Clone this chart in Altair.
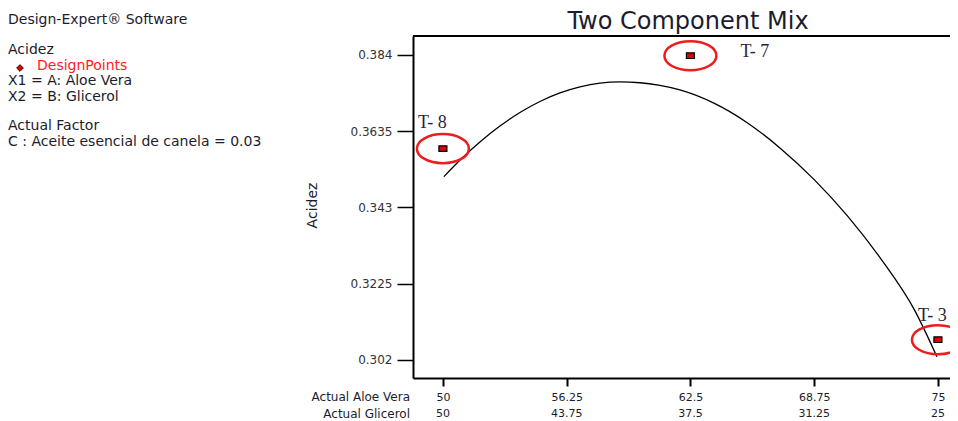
import altair as alt
import pandas as pd

# ---- data ----
aloe_ticks = [50, 56.25, 62.5, 68.75, 75]
glicerol_labels = ["50", "43.75", "37.5", "31.25", "25"]
acidez_ticks = [0.302, 0.3225, 0.343, 0.3635, 0.384]

curve_aloe = [50.05, 51.01, 51.87, 52.88, 53.89, 54.90, 55.91, 56.92, 57.93, 58.94, 59.95,
              60.96, 61.97, 63.66, 65.35, 67.05, 68.74, 70.45, 72.12, 73.84, 74.95]
curve_acidez = [0.35125, 0.35647, 0.36061, 0.36488, 0.36851, 0.37147, 0.37378, 0.37542, 0.37642,
                0.37674, 0.37653, 0.37580, 0.37459, 0.37110, 0.36585, 0.35886, 0.35053, 0.34058,
                0.32915, 0.31517, 0.30281]

run_names = ["T- 8", "T- 7", "T- 3"]
run_aloe = [50, 62.5, 75]
run_acidez = [0.3588, 0.3838, 0.3074]

legend_lines = ["Design-Expert\u00ae Software", "Acidez", "DesignPoints", "X1 = A: Aloe Vera",
                "X2 = B: Glicerol", "Actual Factor", "C : Aceite esencial de canela = 0.03"]

# ---- styling ----
W, H = 537, 342
FONT = "DejaVu Sans"
INK = "#1c1c2e"
RED = "#ee1c1c"

xs = alt.Scale(domain=[48.49, 75.61], nice=False, zero=False)
ys = alt.Scale(domain=[0.2971, 0.3891], nice=False, zero=False)

curve_df = pd.DataFrame({"aloe": curve_aloe, "acidez": curve_acidez})
runs_df = pd.DataFrame({"run": run_names, "aloe": run_aloe, "acidez": run_acidez})
gl_df = pd.DataFrame({"aloe": aloe_ticks, "glicerol": glicerol_labels})
one = alt.Data(values=[{"k": 1}])

x_enc = alt.X("aloe:Q", scale=xs, axis=alt.Axis(
    values=aloe_ticks, labelExpr="format(datum.value, '.2~f')", title=None, grid=False,
    tickSize=8, tickWidth=2, tickColor="black",
    domainColor="black", domainWidth=2,
    labelFont=FONT, labelFontSize=11, labelColor=INK, labelPadding=5,
    labelFlush=False))
y_enc = alt.Y("acidez:Q", scale=ys, axis=alt.Axis(
    values=acidez_ticks, labelExpr="format(datum.value, '.4~f')", title="Acidez", grid=False,
    titleX=-101, titleY=169, titleFont=FONT, titleFontSize=14,
    titleFontWeight="normal", titleColor=INK, titleBaseline="middle",
    tickSize=16, tickWidth=1.5, tickColor="black",
    domainColor="black", domainWidth=2,
    labelFont=FONT, labelFontSize=12, labelColor="#333333", labelPadding=5))

curve = alt.Chart(curve_df).mark_line(
    color="black", strokeWidth=1.3, interpolate="monotone"
).encode(x=x_enc, y=y_enc)

ELLIPSE = "M-1,0A1,0.56,0,1,0,1,0A1,0.56,0,1,0,-1,0Z"
rings = alt.Chart(runs_df).mark_point(
    shape=ELLIPSE, filled=False, stroke=RED, strokeWidth=2.5, size=2704, opacity=1, clip=True
).encode(x=alt.X("aloe:Q", scale=xs), y=alt.Y("acidez:Q", scale=ys))

dots = alt.Chart(runs_df).mark_point(
    shape="M-1,-0.7H1V0.7H-1Z", filled=True, fill="#e00000", stroke="black",
    strokeWidth=1.2, size=64, opacity=1
).encode(x=alt.X("aloe:Q", scale=xs), y=alt.Y("acidez:Q", scale=ys))

label_offsets = {"T- 8": (-25, -26), "T- 7": (50, -4), "T- 3": (-20, -24)}
run_labels = []
for name in run_names:
    dx, dy = label_offsets[name]
    run_labels.append(
        alt.Chart(runs_df).transform_filter(alt.datum.run == name).mark_text(
            font="Liberation Serif", fontSize=18, color="#2a1f3d", align="left",
            baseline="middle", dx=dx, dy=dy
        ).encode(x=alt.X("aloe:Q", scale=xs), y=alt.Y("acidez:Q", scale=ys), text="run:N")
    )

glic = alt.Chart(gl_df).mark_text(
    font=FONT, fontSize=11, color=INK, align="center", baseline="middle"
).encode(x=alt.X("aloe:Q", scale=xs), y=alt.value(378), text="glicerol:N")

top_rule = alt.Chart(one).mark_rule(color="black", strokeWidth=2).encode(
    x=alt.value(0), x2=alt.value(W), y=alt.value(0))


def txt(s, x, y, size=14, color=INK, align="left", font=FONT):
    return alt.Chart(one).mark_text(
        font=font, fontSize=size, color=color, align=align, baseline="middle"
    ).encode(x=alt.value(x), y=alt.value(y), text=alt.value(s))


texts = [
    txt("Two Component Mix", 275, -14, size=24, align="center"),
    txt(legend_lines[0], -405, -16),
    txt(legend_lines[1], -405, 14),
    txt(legend_lines[2], -376, 30, color="#ff1a1a"),
    txt(legend_lines[3], -405, 45),
    txt(legend_lines[4], -405, 61),
    txt(legend_lines[5], -405, 90),
    txt(legend_lines[6], -405, 106),
    txt("Actual Aloe Vera", -3, 361, size=12, align="right"),
    txt("Actual Glicerol", -3, 378, size=12, align="right"),
]

diamond = alt.Chart(one).mark_point(
    shape="diamond", filled=True, fill="#e00000", stroke="#400000", strokeWidth=1, size=45, opacity=1
).encode(x=alt.value(-393), y=alt.value(32))

chart = alt.layer(
    curve, rings, dots, *run_labels, glic, top_rule, diamond, *texts
).properties(
    width=W, height=H,
    autosize=alt.AutoSizeParams(type="none"),
    padding={"left": 405, "top": 28, "right": 0, "bottom": 43},
).configure_view(stroke=None)

chart.save("out.html", embed_options={"renderer": "svg", "actions": False})
